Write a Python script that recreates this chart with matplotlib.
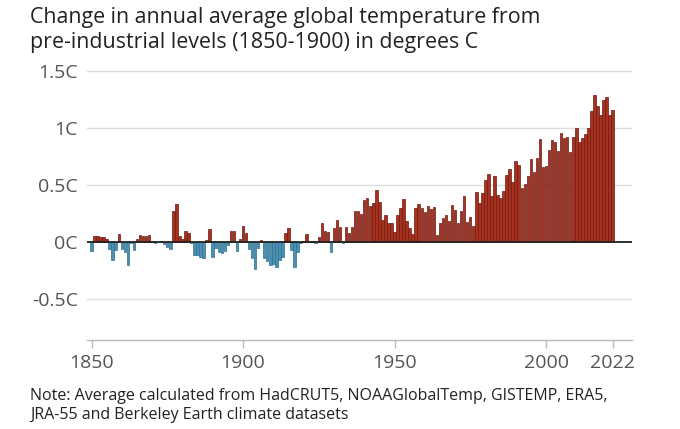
import matplotlib
matplotlib.use("Agg")
import matplotlib.pyplot as plt
import numpy as np

years = list(range(1850, 2023))
anomaly = [
    -0.08, 0.05, 0.05, 0.04, 0.04, 0.03, -0.06, -0.16, -0.07, 0.07,   # 1850-1859
    -0.06, -0.09, -0.20, -0.01, -0.07, 0.03, 0.06, 0.05, 0.05, 0.06,  # 1860-1869
    0.01, -0.01, 0.00, 0.01, -0.02, -0.04, -0.06, 0.27, 0.33, 0.055,  # 1870-1879
    0.03, 0.10, 0.08, -0.01, -0.11, -0.11, -0.13, -0.14, 0.02, 0.11,  # 1880-1889
    -0.13, -0.05, -0.09, -0.10, -0.08, -0.03, 0.10, 0.10, -0.08, 0.03,  # 1890-1899
    0.14, 0.08, -0.06, -0.14, -0.24, -0.05, 0.02, -0.14, -0.17, -0.20,  # 1900-1909
    -0.19, -0.22, -0.16, -0.13, 0.075, 0.125, -0.07, -0.22, -0.085, -0.01,  # 1910-1919
    0.01, 0.07, 0.00, 0.01, -0.01, 0.04, 0.17, 0.10, 0.085, -0.085,  # 1920-1929
    0.125, 0.19, 0.135, -0.005, 0.13, 0.075, 0.13, 0.27, 0.275, 0.25,  # 1930-1939
    0.37, 0.39, 0.32, 0.34, 0.46, 0.355, 0.19, 0.24, 0.17, 0.17,  # 1940-1949
    0.09, 0.24, 0.30, 0.38, 0.185, 0.125, 0.07, 0.30, 0.335, 0.30,  # 1950-1959
    0.26, 0.315, 0.29, 0.31, 0.06, 0.165, 0.21, 0.24, 0.18, 0.325,  # 1960-1969
    0.28, 0.17, 0.27, 0.405, 0.175, 0.22, 0.14, 0.435, 0.34, 0.43,  # 1970-1979
    0.545, 0.595, 0.40, 0.58, 0.41, 0.385, 0.45, 0.59, 0.64, 0.53,  # 1980-1989
    0.71, 0.675, 0.47, 0.51, 0.575, 0.73, 0.61, 0.74, 0.905, 0.655,  # 1990-1999
    0.665, 0.805, 0.895, 0.88, 0.80, 0.96, 0.91, 0.92, 0.79, 0.925,  # 2000-2009
    1.00, 0.875, 0.91, 0.945, 1.00, 1.15, 1.29, 1.19, 1.11, 1.245,  # 2010-2019
    1.275, 1.11, 1.16,  # 2020-2022
]
ytick_values = [-0.5, 0, 0.5, 1, 1.5]
ytick_labels = ["-0.5C", "0C", "0.5C", "1C", "1.5C"]
xtick_values = [1850, 1900, 1950, 2000, 2022]
title = "Change in annual average global temperature from\npre-industrial levels (1850-1900) in degrees C"
note = "Note: Average calculated from HadCRUT5, NOAAGlobalTemp, GISTEMP, ERA5,\nJRA-55 and Berkeley Earth climate datasets"

plt.rcParams['font.family'] = ['Open Sans', 'DejaVu Sans']

W, H = 680, 429
fig = plt.figure(figsize=(W / 100, H / 100), dpi=100)

left_px, right_px, top_px, bottom_px = 87, 632, 60, 340
ax = fig.add_axes([left_px / W, 1 - bottom_px / H, (right_px - left_px) / W, (bottom_px - top_px) / H])

ppy = 3.03
x0 = 1850 - (91.5 - left_px) / ppy
x1 = 1850 + (right_px - 91.5) / ppy
ax.set_xlim(x0, x1)
ppc = 114.0
ax.set_ylim(-(bottom_px - 242) / ppc, (242 - top_px) / ppc)

vals = np.array(anomaly)
red_face, red_edge = "#a8301f", "#6e1a10"
blue_face, blue_edge = "#4a90b3", "#2f6f90"
colors = [red_face if v >= 0 else blue_face for v in vals]
edges = [red_edge if v >= 0 else blue_edge for v in vals]
ax.bar(years, vals, width=0.82, color=colors, edgecolor=edges, linewidth=0.5, zorder=3)

for v in ytick_values:
    if v == 0:
        continue
    ax.axhline(v, color="#dddddd", linewidth=1.0, zorder=1)
ax.axhline(0, color="#222222", linewidth=1.3, zorder=4)

for s in ["top", "right", "left"]:
    ax.spines[s].set_visible(False)
ax.spines["bottom"].set_color("#bbbbbb")
ax.spines["bottom"].set_linewidth(1.0)

ax.set_yticks(ytick_values)
ax.set_yticklabels(ytick_labels)
ax.tick_params(axis="y", length=0, pad=6.5, labelsize=14, labelcolor="#555555")

ax.set_xticks(xtick_values)
ax.set_xticklabels([str(x) for x in xtick_values])
ax.tick_params(axis="x", length=6, width=1, color="#bbbbbb", pad=4, labelsize=14, labelcolor="#555555")

fig.text(30 / W, 1 - 7 / H, title, ha="left", va="top", fontsize=15.4, color="#222222", linespacing=1.22)
fig.text(30 / W, 1 - 388 / H, note, ha="left", va="top", fontsize=11.5, color="#222222", linespacing=1.22)

fig.savefig("out.png", dpi=100)
